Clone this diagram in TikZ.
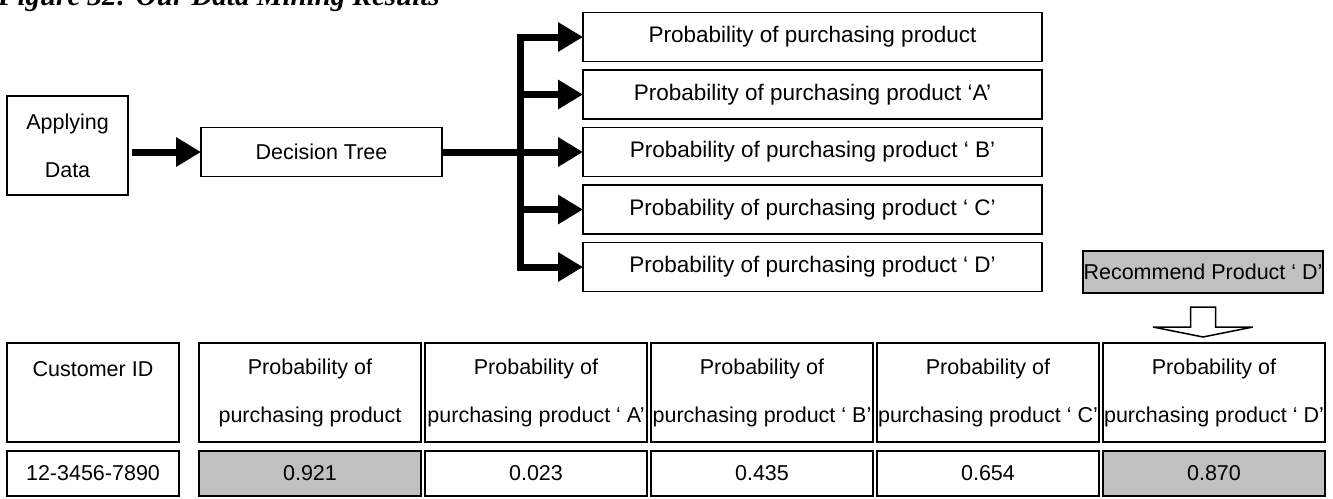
\documentclass[tikz,border=0pt]{standalone}
\usepackage{fontspec}
\setmainfont{Liberation Sans}
\newfontfamily\titlefont{Liberation Serif}
\usetikzlibrary{positioning, arrows.meta}
\definecolor{hilite}{HTML}{C0C0C0}

\begin{document}
\begin{tikzpicture}[
		x=1pt, y=-1pt,
		box/.style={draw, line width=1.5pt, align=center, inner sep=0pt, outer sep=0pt, font=\fontsize{21.5}{48}\selectfont},
		prob/.style={box, minimum width=459pt, minimum height=49pt, font=\fontsize{22.5}{48}\selectfont},
		head/.style={box, minimum width=222pt, minimum height=99pt},
		val/.style={box, minimum width=222pt, minimum height=45pt},
		hit/.style={fill=hilite},
		fat/.style={line width=7pt},
		arrow/.style={fat, -{Triangle[length=25pt, width=28pt]}},
		hollow/.style={draw, line width=1.5pt, fill=white, line join=miter}
		]
		\useasboundingbox (0,0) rectangle (1333,498);
		
		% ==========================================
		% TITLE (cut off at the top)
		% ==========================================
		\node[anchor=base west, inner sep=0pt, font=\titlefont\bfseries\itshape\fontsize{29}{29}\selectfont] (title) at (-2,5) {Figure 32: Our Data Mining Results};
		
		% ==========================================
		% FLOW: data -> tree -> probabilities
		% ==========================================
		\node[box, minimum width=121pt, minimum height=99pt] (ad) at (67.5,145.5) {Applying\\Data};
		\node[box, minimum width=241pt, minimum height=49pt] (dt) at (321.5,152) {Decision Tree};
		
		\node[prob, right=141pt of dt] (pb) {Probability of purchasing product ‘ B’};
		\node[prob, above=8.5pt of pb] (pa) {Probability of purchasing product ‘A’};
		\node[prob, above=8.5pt of pa] (p0) {Probability of purchasing product};
		\node[prob, below=8.5pt of pb] (pc) {Probability of purchasing product ‘ C’};
		\node[prob, below=8.5pt of pc] (pd) {Probability of purchasing product ‘ D’};
		
		\draw[arrow, shorten <=4pt] (ad.east |- dt) -- (dt.west);
		
		\coordinate[right=78pt of dt.east] (split);
		\draw[fat] (dt.east) -- (split);
		\draw[fat, line cap=rect] (split |- p0.west) -- (split |- pd.west);
		\foreach \n in {p0, pa, pb, pc, pd}
		\draw[arrow] (split |- \n.west) -- (\n.west);
		
		% ==========================================
		% RECOMMENDATION
		% ==========================================
		\node[box, hit, minimum width=240pt, minimum height=42pt] (rec) at (1203,272) {Recommend Product ‘ D’};
		
		% ==========================================
		% RESULT TABLE
		% ==========================================
		\node[head, minimum width=172pt] (cid) at (93,392.5) {Customer ID\\\mbox{}};
		\node[head, right=20pt of cid] (q0) {Probability of\\purchasing product};
		\node[head, right=4pt of q0] (qa) {Probability of\\purchasing product ‘ A’};
		\node[head, right=4pt of qa] (qb) {Probability of\\purchasing product ‘ B’};
		\node[head, right=4pt of qb] (qc) {Probability of\\purchasing product ‘ C’};
		\node[head, right=4pt of qc] (qd) {Probability of\\purchasing product ‘ D’};
		
		\node[val, minimum width=172pt, below=9pt of cid] (vid) {12-3456-7890};
		\node[val, hit, below=9pt of q0] (v0) {0.921};
		\node[val, below=9pt of qa] (va) {0.023};
		\node[val, below=9pt of qb] (vb) {0.435};
		\node[val, below=9pt of qc] (vc) {0.654};
		\node[val, hit, below=9pt of qd] (vd) {0.870};
		
		% hollow arrow from the recommendation down to its column
		\draw[hollow] ([yshift=-14pt]rec.south) ++(-12.5,0) -- ++(0,20) -- ++(-37.5,0) -- ++(50,10) -- ++(50,-10) -- ++(-37.5,0) -- ++(0,-20) -- cycle;
		
	\end{tikzpicture}
\end{document}
